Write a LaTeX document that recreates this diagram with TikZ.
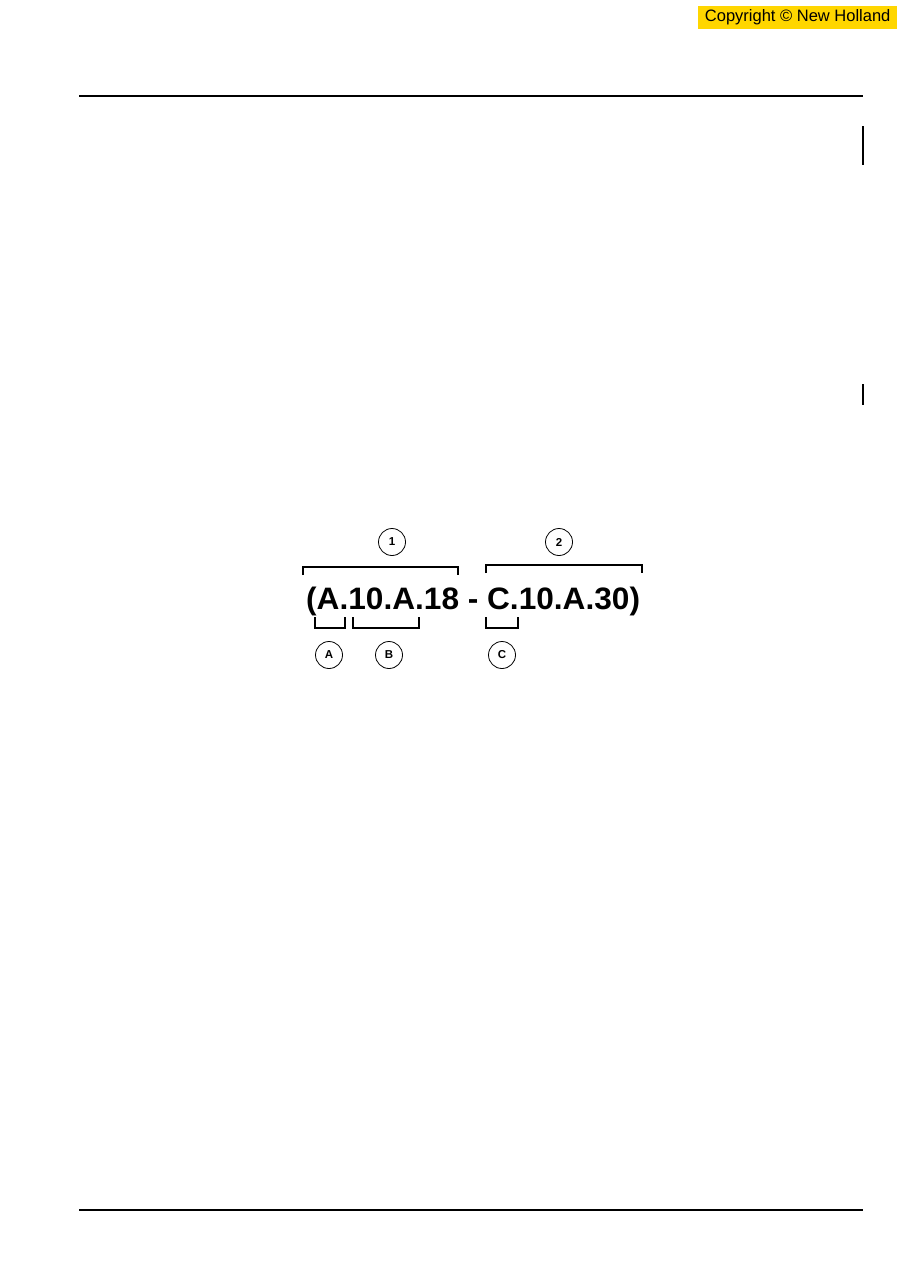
\documentclass[tikz,border=0pt]{standalone}
\usepackage{fontspec}
\setmainfont{Liberation Sans}
\definecolor{nhyellow}{RGB}{255,214,0}
\tikzset{
  callout/.style={draw,circle,thick,minimum size=27pt,inner sep=0pt,font=\fontsize{11.5}{11.5}\selectfont\bfseries},
  brack/.style={line width=1.3pt}
}
\begin{document}
\begin{tikzpicture}[x=1pt,y=-1pt]
\useasboundingbox (0,0) rectangle (909,1286);

% page frame
\coordinate (cHeadL) at (79,96);
\coordinate (cHeadR) at (863,96);
\coordinate (cFootL) at (79,1210);
\coordinate (cFootR) at (863,1210);
\draw [line width=1.3pt] (cHeadL) -- (cHeadR);
\draw [line width=1.3pt] (cFootL) -- (cFootR);
\draw [line width=1.5pt] (863,126) -- (863,165);
\draw [line width=1.5pt] (863,384) -- (863,405);

\node [fill=nhyellow,anchor=north west,minimum width=199pt,minimum height=23pt,inner sep=0pt,
  font=\fontsize{16.5}{16.5}\selectfont] (copyBox) at (698,6) {Copyright \textcopyright{} New Holland};

% code text
\node [anchor=base west,inner sep=0pt,xscale=1.02,font=\fontsize{31}{31}\selectfont\bfseries] (codeTxt) at (306,609)
  {(A.10.A.18 - C.10.A.30)};

% upper brackets
\coordinate (cOneL) at (303,575);
\coordinate (cOneR) at (458,575);
\coordinate (cTwoL) at (486,573);
\coordinate (cTwoR) at (642,573);
\draw [brack] (cOneL) -- ++(0,-8) -| (cOneR);
\draw [brack] (cTwoL) -- ++(0,-8) -| (cTwoR);

% lower brackets
\coordinate (cAL) at (315,617);
\coordinate (cAR) at (345,617);
\coordinate (cBL) at (353,617);
\coordinate (cBR) at (419,617);
\coordinate (cCL) at (486,617);
\coordinate (cCR) at (518,617);
\foreach \l/\r in {cAL/cAR, cBL/cBR, cCL/cCR}
{
    \draw [brack] (\l) -- ++(0,11) -| (\r);
};

% callouts
\foreach \n/\x/\y/\t in
{   one/392/542/1,
    two/559/542/2,
    ltrA/329/655/A,
    ltrB/389/655/B,
    ltrC/502/655/C
}
{
    \node [callout] (\n) at (\x,\y) {\t};
};
\end{tikzpicture}
\end{document}
